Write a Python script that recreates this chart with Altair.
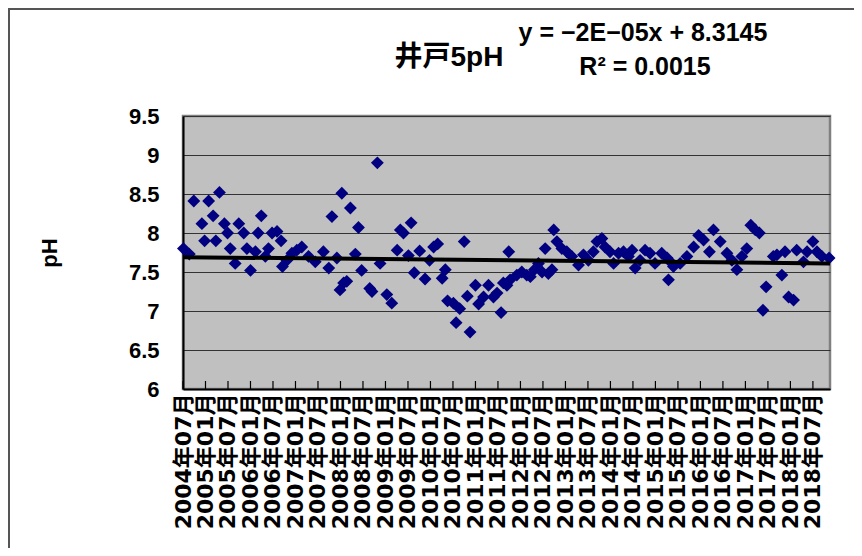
"""Well 5 pH time series with linear trend (Excel-style scatter)."""

import altair as alt
import pandas as pd

# Sampling time (decimal year) and pH
sample_year = [
    2004.51, 2004.64, 2004.74, 2004.92, 2004.98, 2005.07, 2005.17, 2005.23,
    2005.31, 2005.42, 2005.49, 2005.55, 2005.66, 2005.74, 2005.85, 2005.92,
    2006.00, 2006.11, 2006.17, 2006.24, 2006.33, 2006.40, 2006.48, 2006.59,
    2006.68, 2006.71, 2006.81, 2006.92, 2007.03, 2007.14, 2007.29, 2007.44,
    2007.62, 2007.74, 2007.81, 2007.92, 2007.99, 2008.03, 2008.07, 2008.14,
    2008.22, 2008.33, 2008.40, 2008.47, 2008.65, 2008.70, 2008.82, 2008.88,
    2009.03, 2009.14, 2009.26, 2009.33, 2009.40, 2009.51, 2009.57, 2009.64,
    2009.76, 2009.88, 2009.98, 2010.07, 2010.16, 2010.26, 2010.33, 2010.38,
    2010.51, 2010.57, 2010.65, 2010.75, 2010.82, 2010.88, 2011.00, 2011.07,
    2011.18, 2011.29, 2011.40, 2011.48, 2011.57, 2011.62, 2011.70, 2011.74,
    2011.77, 2011.92, 2012.03, 2012.14, 2012.22, 2012.31, 2012.40, 2012.48,
    2012.55, 2012.62, 2012.70, 2012.74, 2012.81, 2012.92, 2013.03, 2013.14,
    2013.29, 2013.40, 2013.51, 2013.62, 2013.70, 2013.81, 2013.88, 2013.99,
    2014.07, 2014.18, 2014.29, 2014.40, 2014.48, 2014.55, 2014.66, 2014.77,
    2014.88, 2014.99, 2015.14, 2015.26, 2015.29, 2015.37, 2015.40, 2015.55,
    2015.70, 2015.85, 2015.96, 2016.07, 2016.20, 2016.29, 2016.44, 2016.59,
    2016.70, 2016.81, 2016.92, 2017.03, 2017.12, 2017.22, 2017.31, 2017.39,
    2017.46, 2017.62, 2017.70, 2017.81, 2017.88, 2017.96, 2018.07, 2018.14,
    2018.29, 2018.37, 2018.50, 2018.59, 2018.70, 2018.86,
]
ph_value = [
    7.80, 7.73, 8.41, 8.12, 7.90, 8.41, 8.22, 7.90,
    8.52, 8.12, 8.00, 7.80, 7.61, 8.12, 8.00, 7.80,
    7.52, 7.76, 8.00, 8.22, 7.70, 7.80, 8.00, 8.02,
    7.90, 7.57, 7.65, 7.74, 7.78, 7.82, 7.70, 7.63,
    7.76, 7.55, 8.21, 7.68, 7.27, 8.51, 7.36, 7.38,
    8.32, 7.73, 8.07, 7.52, 7.29, 7.25, 8.90, 7.61,
    7.21, 7.10, 7.78, 8.04, 8.00, 7.71, 8.13, 7.49,
    7.77, 7.41, 7.65, 7.82, 7.86, 7.42, 7.53, 7.13,
    7.10, 6.85, 7.03, 7.89, 7.19, 6.73, 7.33, 7.09,
    7.18, 7.33, 7.18, 7.23, 6.98, 7.36, 7.33, 7.76,
    7.40, 7.46, 7.50, 7.46, 7.44, 7.53, 7.61, 7.50,
    7.80, 7.48, 7.53, 8.04, 7.89, 7.80, 7.76, 7.70,
    7.59, 7.72, 7.65, 7.76, 7.89, 7.93, 7.82, 7.76,
    7.61, 7.74, 7.76, 7.70, 7.78, 7.55, 7.65, 7.78,
    7.74, 7.61, 7.74, 7.68, 7.40, 7.61, 7.57, 7.61,
    7.70, 7.82, 7.97, 7.91, 7.76, 8.04, 7.89, 7.74,
    7.65, 7.53, 7.70, 7.80, 8.10, 8.04, 8.00, 7.01,
    7.31, 7.70, 7.72, 7.46, 7.76, 7.18, 7.14, 7.78,
    7.63, 7.76, 7.89, 7.76, 7.70, 7.68,
]

# Linear trend as drawn (ends of the black line) and its Excel label
trend_year = [2004.5, 2018.88]
trend_ph = [7.69, 7.61]
trend_label = ["y = −2E−05x + 8.3145", "R² = 0.0015"]
chart_title = "井戸5pH"

# Half-year axis ticks (Jan / Jul)
tick_year = [
    2004.5, 2005.0, 2005.5, 2006.0, 2006.5, 2007.0, 2007.5, 2008.0,
    2008.5, 2009.0, 2009.5, 2010.0, 2010.5, 2011.0, 2011.5, 2012.0,
    2012.5, 2013.0, 2013.5, 2014.0, 2014.5, 2015.0, 2015.5, 2016.0,
    2016.5, 2017.0, 2017.5, 2018.0, 2018.5,
]
ph_ticks = [6, 6.5, 7, 7.5, 8, 8.5, 9, 9.5]

FONT = "Liberation Sans, Noto Sans CJK JP"
DATE_FONT = "DejaVu Sans, Noto Sans CJK JP"
W, H = 647, 273

df = pd.DataFrame({"year": sample_year, "ph": ph_value})
trend = pd.DataFrame({"year": trend_year, "ph": trend_ph})
ticks = pd.DataFrame({"year": tick_year})
one_row = pd.DataFrame({"k": [0]})

x_scale = alt.Scale(domain=[2004.5, 2018.88], nice=False, zero=False)
y_scale = alt.Scale(domain=[6, 9.5], nice=False, zero=False)

x_axis = alt.Axis(
    values=tick_year,
    labelExpr="floor(datum.value) + '年' + (datum.value % 1 ? '07' : '01') + '月'",
    labelFont=DATE_FONT,
    labelAngle=270,
    labelAlign="right",
    labelBaseline="middle",
    labelFontSize=22,
    labelFontWeight="bold",
    labelColor="black",
    labelPadding=4,
    labelOverlap=False,
    labelFlush=False,
    labelBound=False,
    ticks=False,
    grid=False,
    domainColor="black",
    domainWidth=2,
    title=None,
)
y_axis = alt.Axis(
    values=ph_ticks,
    format=".1~f",
    labelFont=FONT,
    labelFontSize=22,
    labelFontWeight="bold",
    labelColor="black",
    labelPadding=24,
    labelOverlap=False,
    labelFlush=False,
    labelBound=False,
    ticks=False,
    grid=True,
    gridColor="#333333",
    gridWidth=1.2,
    domainColor="black",
    domainWidth=2,
    title="pH",
    titleFont=FONT,
    titleFontSize=22,
    titleFontWeight="bold",
    titleColor="black",
    titleX=-134,
    titleY=H / 2,
    titleBaseline="middle",
    titleAlign="center",
)

points = (
    alt.Chart(df)
    .mark_point(shape="diamond", filled=True, color="#000080", size=165, opacity=1)
    .encode(
        x=alt.X("year:Q", scale=x_scale, axis=x_axis),
        y=alt.Y("ph:Q", scale=y_scale, axis=y_axis),
    )
)

trend_line = (
    alt.Chart(trend)
    .mark_line(color="black", strokeWidth=4)
    .encode(
        x=alt.X("year:Q", scale=x_scale, axis=x_axis),
        y=alt.Y("ph:Q", scale=y_scale, axis=y_axis),
    )
)

# Excel draws its major ticks inside the plot area
inner_ticks = (
    alt.Chart(ticks)
    .mark_rule(color="black", strokeWidth=1.2)
    .encode(
        x=alt.X("year:Q", scale=x_scale, axis=x_axis),
        y=alt.value(H - 8),
        y2=alt.value(H),
    )
)

text_style = dict(font=FONT, color="black", fontWeight="bold", clip=False)

title_text = (
    alt.Chart(one_row)
    .mark_text(fontSize=28, text=chart_title, **text_style)
    .encode(x=alt.value(266), y=alt.value(-58))
)
equation = (
    alt.Chart(one_row)
    .mark_text(fontSize=25, text=trend_label[0], **text_style)
    .encode(x=alt.value(460), y=alt.value(-83))
)
equation_r2 = (
    alt.Chart(one_row)
    .mark_text(fontSize=25, text=trend_label[1], **text_style)
    .encode(x=alt.value(462), y=alt.value(-49))
)

# Outer chart frame (top and left edges visible in the reference)
frame_top = (
    alt.Chart(one_row)
    .mark_rule(color="#555555", strokeWidth=2)
    .encode(x=alt.value(-175), x2=alt.value(W + 30), y=alt.value(-107))
)
frame_left = (
    alt.Chart(one_row)
    .mark_rule(color="#555555", strokeWidth=2)
    .encode(x=alt.value(-174), y=alt.value(-108), y2=alt.value(H + 170))
)

chart = (
    alt.layer(
        points, trend_line, inner_ticks,
        frame_top, frame_left, title_text, equation, equation_r2,
    )
    .properties(
        width=W,
        height=H,
        autosize=alt.AutoSizeParams(type="none"),
        padding={"left": 175, "top": 108, "right": 24, "bottom": 159},
        background="white",
    )
    .configure_view(fill="#C0C0C0", stroke="#808080", strokeWidth=2.5)
    .configure_axis(labelOverlap=False)
)

chart.save("out.html", embed_options={"renderer": "svg", "actions": False})
